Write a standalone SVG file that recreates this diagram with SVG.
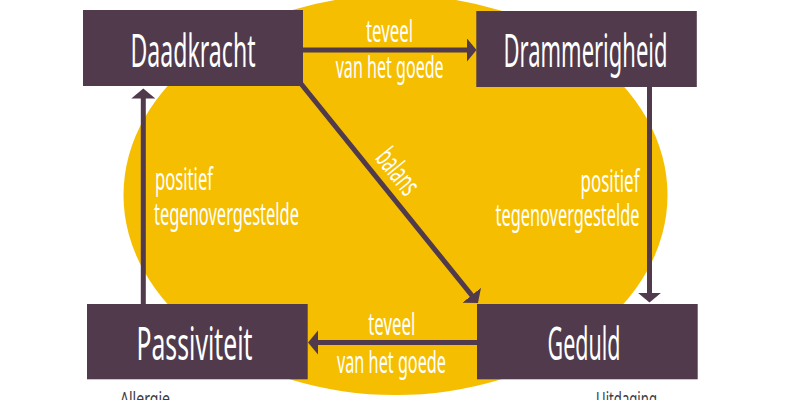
<svg xmlns="http://www.w3.org/2000/svg" width="800" height="400" viewBox="0 0 800 400">
  <defs>
    <style>
      .box { fill: #503a4b; }
      .big { font-family: "Noto Sans", "Liberation Sans", sans-serif; font-stretch: extra-condensed; font-size: 46px; fill: #ffffff; text-anchor: middle; }
      .lbl { font-family: "Noto Sans", "Liberation Sans", sans-serif; font-stretch: extra-condensed; font-size: 30px; fill: #ffffff; }
      .mid { text-anchor: middle; }
      .end { text-anchor: end; }
      .note { font-family: "Noto Sans", "Liberation Sans", sans-serif; font-stretch: extra-condensed; font-size: 20px; fill: #3d3a3d; }
      .con { stroke: #503a4b; stroke-width: 5; fill: none; marker-end: url(#arrow); }
    </style>
    <marker id="arrow" markerUnits="userSpaceOnUse" viewBox="0 -13 12 26" markerWidth="12" markerHeight="26" refX="1" refY="0" orient="auto">
      <path d="M0,-12 L10,0 L0,12 Z" fill="#503a4b"/>
    </marker>
  </defs>

  <ellipse id="background" cx="395.5" cy="195" rx="272" ry="200" fill="#f5be00"/>

  <g id="connectors">
    <line class="con" x1="303" y1="50" x2="467.5" y2="50"/>
    <line class="con" x1="477" y1="342.5" x2="317" y2="342.5"/>
    <line class="con" x1="143.3" y1="304" x2="143.3" y2="97.5"/>
    <line class="con" x1="649.5" y1="87" x2="649.5" y2="293.5"/>
    <line class="con" x1="299.6" y1="82" x2="472.3" y2="296"/>
    <text class="lbl mid" x="389.5" y="41.7" textLength="47" lengthAdjust="spacingAndGlyphs">teveel</text>
    <text class="lbl mid" x="389.7" y="78.3" textLength="108" lengthAdjust="spacingAndGlyphs">van het goede</text>
    <text class="lbl mid" x="391.8" y="335" textLength="47" lengthAdjust="spacingAndGlyphs">teveel</text>
    <text class="lbl mid" x="391.5" y="373.3" textLength="109" lengthAdjust="spacingAndGlyphs">van het goede</text>
    <text class="lbl" x="155" y="190" textLength="58" lengthAdjust="spacingAndGlyphs">positief</text>
    <text class="lbl" x="154" y="225" textLength="145" lengthAdjust="spacingAndGlyphs">tegenovergestelde</text>
    <text class="lbl end" x="639.5" y="191.7" textLength="59" lengthAdjust="spacingAndGlyphs">positief</text>
    <text class="lbl end" x="639.5" y="226" textLength="144" lengthAdjust="spacingAndGlyphs">tegenovergestelde</text>
    <text class="lbl mid" x="0" y="0" textLength="50" lengthAdjust="spacingAndGlyphs" transform="translate(390,178) rotate(51)">balans</text>
  </g>

  <g id="daadkracht">
    <rect class="box" x="83" y="10" width="220" height="76"/>
    <text class="big" x="193" y="67" textLength="125" lengthAdjust="spacingAndGlyphs">Daadkracht</text>
  </g>
  <g id="drammerigheid">
    <rect class="box" x="476.3" y="11" width="220.5" height="76"/>
    <text class="big" x="585.5" y="67" textLength="164" lengthAdjust="spacingAndGlyphs">Drammerigheid</text>
  </g>
  <g id="passiviteit">
    <rect class="box" x="87" y="304" width="220.7" height="75.3"/>
    <text class="big" x="194.5" y="359.5" textLength="116" lengthAdjust="spacingAndGlyphs">Passiviteit</text>
  </g>
  <g id="geduld">
    <rect class="box" x="477" y="304" width="220.7" height="75.3"/>
    <text class="big" x="584" y="359.5" textLength="73" lengthAdjust="spacingAndGlyphs">Geduld</text>
  </g>

  <text class="note" x="120" y="406" textLength="50" lengthAdjust="spacingAndGlyphs">Allergie</text>
  <text class="note" x="596" y="406" textLength="61" lengthAdjust="spacingAndGlyphs">Uitdaging</text>
</svg>
